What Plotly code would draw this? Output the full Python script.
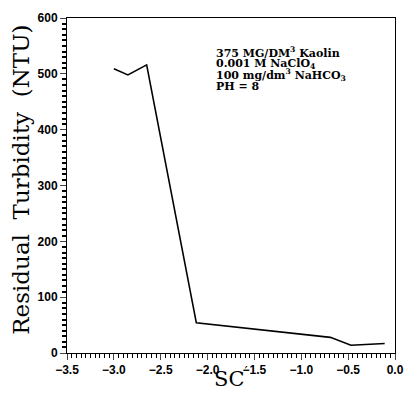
import plotly.graph_objects as go

sc = [-3.0, -2.85, -2.65, -2.12, -0.69, -0.47, -0.11]
turbidity = [509, 498, 516, 54, 28, 14, 17]

note_lines = [
    "375 MG/DM<sup>3</sup> Kaolin",
    "0.001 M NaClO<sub>4</sub>",
    "100 mg/dm<sup>3</sup> NaHCO<sub>3</sub>",
    "PH = 8",
]

fig = go.Figure()
fig.add_trace(go.Scatter(x=sc, y=turbidity, mode="lines",
                         line=dict(color="black", width=1.6), showlegend=False))

tickfont = dict(family="Liberation Sans", size=12, color="black", weight="bold")
fig.update_layout(
    xaxis=dict(range=[-3.5, 0.0], dtick=0.5, tickformat=".1f", showline=True, linecolor="black",
               mirror=True, ticks="outside", ticklen=6, tickfont=tickfont,
               minor=dict(dtick=0.05, ticks="outside", ticklen=4, tickcolor="black")),
    yaxis=dict(range=[0, 600], dtick=100, showline=True, linecolor="black", mirror=True,
               ticks="outside", ticklen=6, tickfont=tickfont,
               minor=dict(dtick=10, ticks="outside", ticklen=4, tickcolor="black", tickwidth=1.5)),
)

# axis titles as paper-anchored text
fig.add_annotation(text="Residual  Turbidity  (NTU)", xref="paper", yref="paper",
                   x=(20 - 67) / 336, y=(353 - 176) / 342, textangle=-90,
                   xanchor="center", yanchor="middle", showarrow=False,
                   font=dict(family="DejaVu Serif", size=23, color="black"))
fig.add_annotation(text="SC<sup>′</sup>", xref="paper", yref="paper",
                   x=(235 - 67) / 336, y=(353 - 378) / 342,
                   xanchor="center", yanchor="middle", showarrow=False,
                   font=dict(family="DejaVu Serif", size=21, color="black"))

ys = [46, 57.5, 69, 80.5]
for t, yp in zip(note_lines, ys):
    fig.add_annotation(text=t, xref="paper", yref="paper",
                       x=(218 - 67) / 336, y=(353 - yp) / 342,
                       xanchor="left", yanchor="middle", showarrow=False,
                       font=dict(family="DejaVu Serif", size=11, color="black", weight="bold"))

fig.update_layout(width=415, height=398, margin=dict(l=67, r=12, t=11, b=45),
                  plot_bgcolor="white", paper_bgcolor="white")
fig.write_html("out.html")
